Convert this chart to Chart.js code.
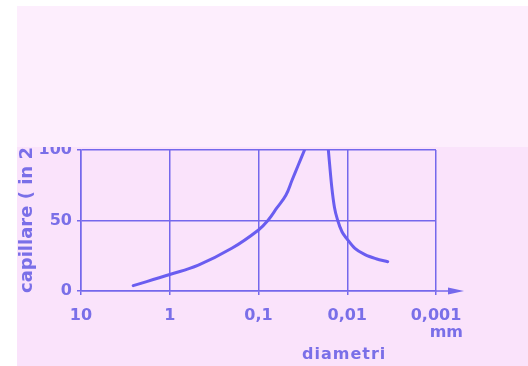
<!DOCTYPE html>
<html>
<head>
<meta charset="utf-8">
<script src="https://cdn.jsdelivr.net/npm/chart.js@4"></script>
<style>
  html, body { margin: 0; padding: 0; background: #ffffff; }
  canvas { display: block; }
</style>
</head>
<body>
<canvas id="grafico" width="528" height="366"></canvas>
<script>
// diametri in mm (asse x logaritmico, invertito)
const diamSalita = [2.58, 1, 0.476, 0.2, 0.1, 0.0776, 0.0624, 0.049, 0.042, 0.0359, 0.0303];
const capSalita = [3.8, 11.7, 18.4, 30.3, 43.3, 50.4, 58.7, 68.1, 78.4, 88.8, 100];

const diamDiscesa = [0.01633, 0.01496, 0.01393, 0.01282, 0.01146, 0.01007, 0.00819, 0.00631, 0.00474, 0.0035];
const capDiscesa = [100, 74, 59.2, 50.2, 42, 37, 30.2, 25.8, 22.9, 20.8];

const tickDiam = [10, 1, 0.1, 0.01, 0.001];
const tickDiamLabel = ['10', '1', '0,1', '0,01', '0,001'];
const tickCap = [0, 50, 100];

const titoloY = 'capillare ( in 24 ore )';
const titoloX = 'diametri';
const unitaX = 'mm';

const COL_LINEA = '#6a5df0';
const COL_GRIGLIA = '#7468ec';
const COL_TESTO = '#7a6fe8';
const FONT = 'DejaVu Sans';

function punti(xs, ys) {
  return xs.map((x, i) => ({ x: x, y: ys[i] }));
}

// sfondo, freccia, titoli e banda chiara in alto
const decorazioni = {
  id: 'decorazioni',
  beforeDraw(chart) {
    const ctx = chart.ctx;
    ctx.save();
    ctx.fillStyle = '#ffffff';
    ctx.fillRect(0, 0, chart.width, chart.height);
    ctx.fillStyle = '#fae3fb';
    ctx.fillRect(17, 6, chart.width - 17, chart.height - 6);
    ctx.restore();
  },
  afterDraw(chart) {
    const ctx = chart.ctx;
    const area = chart.chartArea;
    const y0 = chart.scales.y.getPixelForValue(0);
    ctx.save();
    // prolungamento asse x con freccia
    ctx.strokeStyle = COL_GRIGLIA;
    ctx.lineWidth = 1.5;
    ctx.beginPath();
    ctx.moveTo(area.right, y0);
    ctx.lineTo(452, y0);
    ctx.stroke();
    ctx.fillStyle = COL_GRIGLIA;
    ctx.beginPath();
    ctx.moveTo(448, y0 - 3.5);
    ctx.lineTo(464, y0);
    ctx.lineTo(448, y0 + 3.5);
    ctx.closePath();
    ctx.fill();

    ctx.fillStyle = COL_TESTO;
    ctx.font = 'bold 16px "' + FONT + '"';
    ctx.textBaseline = 'middle';
    ctx.textAlign = 'right';
    ctx.fillText(unitaX, 463, 333);

    ctx.letterSpacing = '1px';
    ctx.textAlign = 'left';
    ctx.fillText(titoloX, 302, 355);
    ctx.letterSpacing = '0px';

    // titolo asse y, ruotato
    ctx.save();
    ctx.font = 'bold 18px "' + FONT + '"';
    ctx.translate(32, 293);
    ctx.rotate(-Math.PI / 2);
    ctx.textAlign = 'left';
    ctx.textBaseline = 'alphabetic';
    ctx.fillText(titoloY, 0, 0);
    ctx.restore();

    // banda chiara che copre la parte alta
    ctx.fillStyle = '#fdeefd';
    ctx.fillRect(17, 6, chart.width - 17, 141);
    ctx.restore();
  }
};

new Chart(document.getElementById('grafico'), {
  type: 'line',
  data: {
    datasets: [
      {
        data: punti(diamSalita, capSalita),
        borderColor: COL_LINEA,
        borderWidth: 3,
        borderCapStyle: 'round',
        pointRadius: 0,
        tension: 0.4
      },
      {
        data: punti(diamDiscesa, capDiscesa),
        borderColor: COL_LINEA,
        borderWidth: 3,
        borderCapStyle: 'round',
        pointRadius: 0,
        cubicInterpolationMode: 'monotone'
      }
    ]
  },
  options: {
    responsive: false,
    animation: false,
    layout: { padding: { left: 0, top: 150, right: 92, bottom: 0 } },
    plugins: {
      legend: { display: false },
      tooltip: { enabled: false }
    },
    scales: {
      x: {
        type: 'logarithmic',
        reverse: true,
        min: 0.001,
        max: 10,
        afterBuildTicks: (s) => { s.ticks = tickDiam.map(v => ({ value: v })); },
        afterFit: (s) => { s.height = 75; },
        grid: { color: COL_GRIGLIA, lineWidth: 1.5, tickLength: 4 },
        border: { color: COL_GRIGLIA, width: 1.5 },
        ticks: {
          autoSkip: false,
          maxRotation: 0,
          padding: 11,
          color: COL_TESTO,
          font: { family: FONT, size: 16, weight: 'bold' },
          callback: (v, i) => tickDiamLabel[i]
        }
      },
      y: {
        min: 0,
        max: 100,
        afterBuildTicks: (s) => { s.ticks = tickCap.map(v => ({ value: v })); },
        afterFit: (s) => { s.width = 81; },
        grid: { color: COL_GRIGLIA, lineWidth: 1.5, tickLength: 4 },
        border: { color: COL_GRIGLIA, width: 1.5 },
        ticks: {
          padding: 5,
          color: COL_TESTO,
          font: { family: FONT, size: 16, weight: 'bold' }
        }
      }
    }
  },
  plugins: [decorazioni]
});
</script>
</body>
</html>
